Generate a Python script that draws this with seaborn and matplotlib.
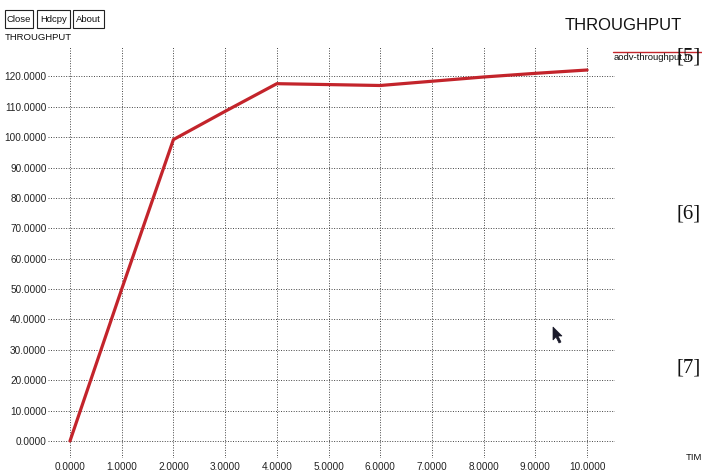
import matplotlib
matplotlib.use("Agg")
import matplotlib.pyplot as plt
from matplotlib.patches import Polygon
import seaborn as sns
import pandas as pd

# Simulation time (s) and measured AODV throughput
time_s = [0, 1, 2, 3, 4, 5, 6, 7, 8, 9, 10]
throughput = [0.0, 50.0, 99.2, 108.5, 117.6, 117.3, 117.0, 118.4, 119.8, 121.0, 122.1]
x_ticks = [0, 1, 2, 3, 4, 5, 6, 7, 8, 9, 10]
y_ticks = [0, 10, 20, 30, 40, 50, 60, 70, 80, 90, 100, 110, 120]
series_name = "aodv-throughput.tr"

sns.set_style("white")
plt.rcParams["font.family"] = ["Liberation Sans", "DejaVu Sans"]

W, H = 702, 475
fig = plt.figure(figsize=(W / 100, H / 100), dpi=100)
fig.patch.set_facecolor("white")

def fx(px):
    return px / W

def fy(py):
    return 1 - py / H

# plotting region in pixels: left 48, right 615, top 46, bottom 458
ax = fig.add_axes([fx(48), fy(458), (615 - 48) / W, (458 - 46) / H])
ax.set_facecolor("white")

df = pd.DataFrame({"time": time_s, "throughput": throughput})
line_color = "#c3242b"
sns.lineplot(data=df, x="time", y="throughput", ax=ax, color=line_color,
             linewidth=2.3, legend=False)

ax.set_xlim(-0.4255, 10.54)
ax.set_ylim(-5.6, 130.0)
ax.set_xticks(x_ticks)
ax.set_yticks(y_ticks)
ax.set_xticklabels([f"{v:.4f}" for v in x_ticks])
ax.set_yticklabels([f"{v:.4f}" for v in y_ticks])
ax.tick_params(axis="both", length=0, labelsize=7.2, colors="#222222")
ax.tick_params(axis="y", pad=1)
ax.tick_params(axis="x", pad=3)
ax.set_xlabel("")
ax.set_ylabel("")
for s in ax.spines.values():
    s.set_visible(False)
ax.grid(True, color="#444444", linestyle=(0, (1, 1.6)), linewidth=0.7)
ax.set_axisbelow(True)

# window buttons
for label, x0, x1 in [("Close", 5, 33), ("Hdcpy", 37, 70), ("About", 73, 104)]:
    fig.add_artist(plt.Rectangle((fx(x0), fy(28)), fx(x1 - x0), 18 / H,
                                 transform=fig.transFigure, fill=False,
                                 edgecolor="#222222", linewidth=0.8))
    fig.text(fx((x0 + x1) / 2), fy(19), label, ha="center", va="center",
             fontsize=6.8, color="#111111")

fig.text(fx(5), fy(37), "THROUGHPUT", ha="left", va="center", fontsize=6.8,
         color="#111111")
fig.text(fx(565), fy(25), "THROUGHPUT", ha="left", va="center", fontsize=12,
         color="#111111")

# legend entry
fig.add_artist(plt.Line2D([fx(613), fx(702)], [fy(52), fy(52)],
                          transform=fig.transFigure, color=line_color,
                          linewidth=1.0))
fig.text(fx(614), fy(58), series_name, ha="left", va="center", fontsize=6.8,
         color="#111111")
fig.text(fx(686), fy(458), "TIM", ha="left", va="center", fontsize=6.8,
         color="#111111")

# reference markers along the right margin
for lab, yc in [("[5]", 57), ("[6]", 214), ("[7]", 368)]:
    fig.text(fx(676), fy(yc), lab, ha="left", va="center", fontsize=15,
             family=["Liberation Serif", "DejaVu Serif"], color="#111111")

# mouse pointer
cx, cy = 553, 327
pts = [(0, 0), (0, 13), (3, 10), (6, 16), (8, 15), (5, 9), (9, 9)]
fig.add_artist(Polygon([(fx(cx + a), fy(cy + b)) for a, b in pts],
                       closed=True, transform=fig.transFigure,
                       facecolor="#1a1a2a", edgecolor="#1a1a2a", linewidth=0.5))

fig.savefig("out.png", dpi=100, facecolor="white")
